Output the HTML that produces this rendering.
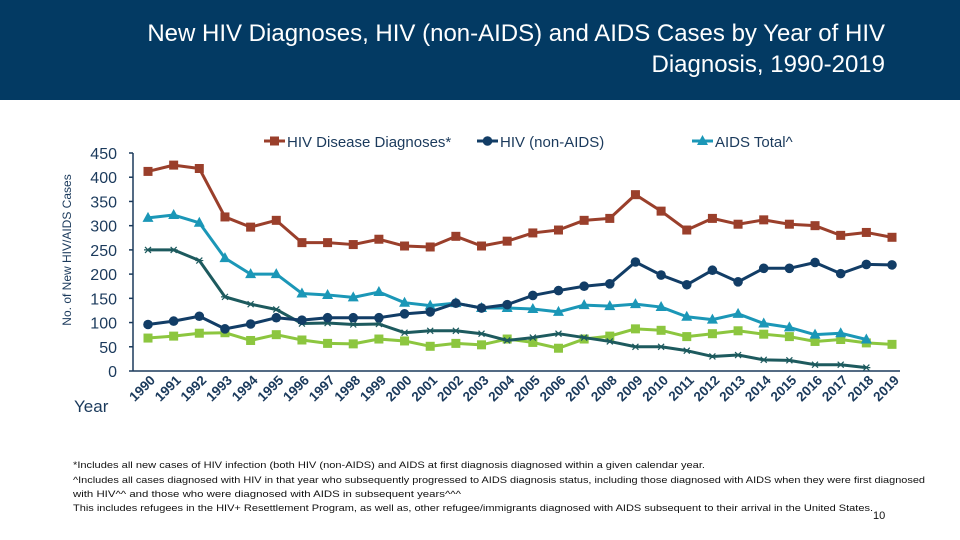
<!DOCTYPE html>
<html><head><meta charset="utf-8"><style>
body{margin:0;width:960px;height:540px;overflow:hidden;background:#fff;font-family:"Liberation Sans",sans-serif}
svg{display:block}
</style></head><body>
<svg id="chart" width="960" height="540" viewBox="0 0 960 540">
<rect x="0" y="0" width="960" height="100" fill="#033a63"/>
<text x="885" y="41" text-anchor="end" font-size="24" fill="#fff">New HIV Diagnoses, HIV (non-AIDS) and AIDS Cases by Year of HIV</text>
<text x="885" y="72" text-anchor="end" font-size="24" fill="#fff">Diagnosis, 1990-2019</text>
<text transform="translate(71,250) rotate(-90)" text-anchor="middle" font-size="12" fill="#1b3a5c">No. of New HIV/AIDS Cases</text>
<text x="74" y="412" font-size="17" fill="#1b3a5c">Year</text>
<g id="axes"></g><g id="series"></g><g id="legend"></g>
<g font-size="9.5" fill="#111">
<text x="73" y="468" textLength="632" lengthAdjust="spacingAndGlyphs">*Includes all new cases of HIV infection (both HIV (non-AIDS) and AIDS at first diagnosis diagnosed within a given calendar year.</text>
<text x="73" y="483" textLength="852" lengthAdjust="spacingAndGlyphs">^Includes all cases diagnosed with HIV in that year who subsequently progressed to AIDS diagnosis status, including those diagnosed with AIDS when they were first diagnosed</text>
<text x="73" y="497" textLength="388" lengthAdjust="spacingAndGlyphs">with HIV^^ and those who were diagnosed with AIDS in subsequent years^^^</text>
<text x="73" y="511" textLength="800" lengthAdjust="spacingAndGlyphs">This includes refugees in the HIV+ Resettlement Program, as well as, other refugee/immigrants  diagnosed with AIDS subsequent to their arrival in the United States.</text>
<text x="873" y="519" font-size="11">10</text>
</g>
</svg>
<script>
const years=[1990,1991,1992,1993,1994,1995,1996,1997,1998,1999,2000,2001,2002,2003,2004,2005,2006,2007,2008,2009,2010,2011,2012,2013,2014,2015,2016,2017,2018,2019];
const yTicks=[0,50,100,150,200,250,300,350,400,450];
const hivDisease=[412,425,418,318,297,311,265,265,261,272,258,256,278,258,268,285,291,311,315,364,330,291,315,303,312,303,300,280,286,276];
const hivNonAids=[96,103,113,87,97,110,105,110,110,110,118,122,140,130,137,156,166,175,180,225,198,178,208,184,212,212,224,201,220,219];
const aidsTotal=[316,322,306,233,200,200,160,157,152,163,141,135,140,130,130,128,122,136,134,138,132,112,106,118,98,90,75,78,65,null];
const aidsLater=[250,250,228,153,138,127,98,99,96,97,79,83,83,77,63,69,77,69,61,50,50,42,30,33,23,22,13,13,7,null];
const aidsAtDx=[68,72,78,79,63,75,64,57,56,66,62,51,57,54,66,59,47,66,72,87,84,71,77,83,76,71,61,65,58,55];
const NS="http://www.w3.org/2000/svg";
const y0=371,yTop=153,yMax=450,x0=148,x1=892;
const ys=v=>y0-(v/yMax)*(y0-yTop);
const xs=i=>x0+i*(x1-x0)/(years.length-1);
function mk(tag,attrs,parent){const e=document.createElementNS(NS,tag);for(const k in attrs)e.setAttribute(k,attrs[k]);parent.appendChild(e);return e;}
const axes=document.getElementById('axes');
let a=mk('line',{x1:133,y1:y0,x2:900,y2:y0,stroke:'#1b3a5c','stroke-width':1.5},axes);


a=mk('line',{x1:133,y1:yTop,x2:133,y2:y0,stroke:'#1b3a5c','stroke-width':1.5},axes);


yTicks.forEach(t=>{
  const l=mk('line',{x1:129,y1:ys(t),x2:133,y2:ys(t),stroke:'#1b3a5c','stroke-width':1.5},axes);
  
  
  const tx=mk('text',{x:117,y:ys(t)+6,'text-anchor':'end','font-size':16,fill:'#1b3a5c'},axes);
  tx.textContent=t;
  
  
});
years.forEach((yr,i)=>{
  const tx=mk('text',{transform:`translate(${xs(i)+8},${381}) rotate(-45)`,'text-anchor':'end','font-size':13.5,'font-weight':'bold',fill:'#1b3a5c'},axes);
  tx.textContent=yr;
  
  
});
const sg=document.getElementById('series');
function marker(type,x,y,color,g){
  let m;
  if(type==='square')m=mk('rect',{x:x-4.5,y:y-4.5,width:9,height:9,fill:color},g);
  else if(type==='circle')m=mk('circle',{cx:x,cy:y,r:4.8,fill:color},g);
  else if(type==='tri')m=mk('polygon',{points:`${x},${y-6} ${x+5.5},${y+4} ${x-5.5},${y+4}`,fill:color},g);
  else m=mk('path',{d:`M${x-4},${y}h8M${x-3},${y-3}l6,6M${x-3},${y+3}l6,-6`,stroke:color,'stroke-width':1.2,fill:'none'},g);
  return m;
}
function series(vals,color,type,name){
  const g=mk('g',{},sg);
  
  
  const pts=vals.map((v,i)=>v==null?null:[xs(i),ys(v)]).filter(p=>p);
  const p=mk('polyline',{points:pts.map(p=>p.join(',')).join(' '),fill:'none',stroke:color,'stroke-width':3,'stroke-linejoin':'round'},g);
  
  
  pts.forEach(q=>{const m=marker(type,q[0],q[1],color,g);
    
    });
}
series(aidsAtDx,'#8cc63f','square','aids-at-diagnosis-series');
series(aidsLater,'#1d5a5e','star','aids-later-series');
series(aidsTotal,'#1b97b7','tri','aids-total-series');
series(hivNonAids,'#123d66','circle','hiv-non-aids-series');
series(hivDisease,'#9a3f2b','square','hiv-disease-series');
const lg=document.getElementById('legend');
const legendItems=[['HIV Disease Diagnoses*','#9a3f2b','square',264],['HIV (non-AIDS)','#123d66','circle',477],['AIDS Total^','#1b97b7','tri',692]];
legendItems.forEach(it=>{
  const g=mk('g',{},lg);
  
  
  mk('line',{x1:it[3],y1:141,x2:it[3]+21,y2:141,stroke:it[1],'stroke-width':3},g);
  marker(it[2],it[3]+10.5,141,it[1],g);
  const t=mk('text',{x:it[3]+23,y:147,'font-size':15,fill:'#1b3a5c'},g);
  t.textContent=it[0];
});
</script>
</body></html>
